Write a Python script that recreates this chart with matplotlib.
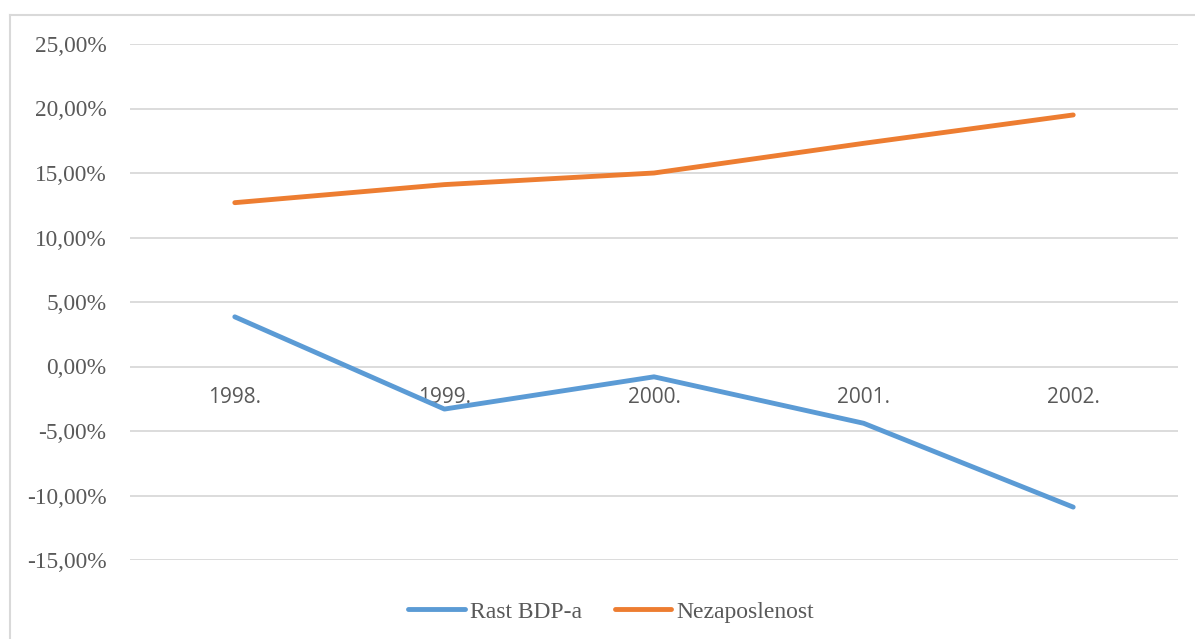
import matplotlib.pyplot as plt
from matplotlib.lines import Line2D
from matplotlib.ticker import FuncFormatter

# chart data
years = ['1998.', '1999.', '2000.', '2001.', '2002.']
rast_bdp = [3.85, -3.3, -0.8, -4.4, -10.9]
nezaposlenost = [12.7, 14.1, 15.0, 17.3, 19.5]
yticks = [-15, -10, -5, 0, 5, 10, 15, 20, 25]

grid_col = '#D9D9D9'
text_col = '#595959'
serif = ['Liberation Serif', 'DejaVu Serif']

W, H = 1195, 639
fig = plt.figure(figsize=(W / 100, H / 100), dpi=100)
ax = fig.add_axes([130 / W, (H - 560) / H, 1048 / W, 516 / H])

x = list(range(len(years)))
ax.plot(x, rast_bdp, color='#5B9BD5', lw=3.5, solid_capstyle='round',
        solid_joinstyle='round', label='Rast BDP-a', zorder=3)
ax.plot(x, nezaposlenost, color='#ED7D31', lw=3.5, solid_capstyle='round',
        solid_joinstyle='round', label='Nezaposlenost', zorder=3)

ax.set_xlim(-0.5, len(years) - 0.5)
ax.set_ylim(-15, 25)
ax.set_yticks(yticks)
ax.yaxis.set_major_formatter(FuncFormatter(lambda v, p: f'{v:.2f}%'.replace('.', ',')))
for lab in ax.get_yticklabels():
    lab.set_family(serif)
ax.tick_params(axis='y', length=0, pad=17, labelsize=16.8, labelcolor=text_col)
ax.grid(axis='y', color=grid_col, lw=1.3)
ax.set_axisbelow(True)

# category labels sit just under the zero line
ax.spines['bottom'].set_position(('data', 0))
ax.set_xticks(x)
ax.set_xticklabels(years, family='Open Sans')
ax.tick_params(axis='x', length=0, pad=15, labelsize=15, labelcolor=text_col)
for s in ax.spines.values():
    s.set_visible(False)

# chart frame (left and top edges visible)
fig.add_artist(Line2D([10 / W, 10 / W], [0, 1 - 15 / H], color=grid_col, lw=1.5))
fig.add_artist(Line2D([10 / W, 1], [1 - 15 / H, 1 - 15 / H], color=grid_col, lw=1.5))

leg = fig.legend(loc='center', bbox_to_anchor=(611 / W, 1 - 612 / H), ncol=2,
                 frameon=False, handlelength=2.4, handletextpad=0.2,
                 columnspacing=1.4, prop={'family': serif, 'size': 17})
for t in leg.get_texts():
    t.set_color(text_col)

fig.savefig('out.png', dpi=100)
